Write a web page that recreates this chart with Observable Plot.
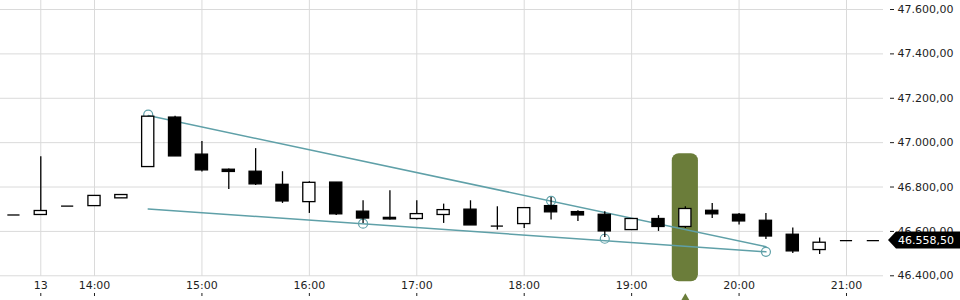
<!DOCTYPE html>
<html><head><meta charset="utf-8">
<script src="https://cdn.jsdelivr.net/npm/d3@7"></script>
<script src="https://cdn.jsdelivr.net/npm/@observablehq/plot@0.6"></script>
<style>body{margin:0;background:#fff;}#chart{width:960px;height:300px;}</style>
</head><body><div id="chart"></div>
<script>
// 15-minute candles
const times  = ["13:15","13:30","13:45","14:00","14:15","14:30","14:45","15:00","15:15","15:30","15:45","16:00","16:15","16:30","16:45","17:00","17:15","17:30","17:45","18:00","18:15","18:30","18:45","19:00","19:15","19:30","19:45","20:00","20:15","20:30","20:45","21:00","21:15"];
const opens  = [46674,46674,46714,46714,46749,46890,47113,46946,46878,46869,46810,46732,46820,46689,46661,46656,46674,46698,46624,46633,46714,46687,46675,46606,46656,46620,46693,46675,46648,46585,46516,46558.5,46558.5];
const highs  = [46674,46937,46714,46760,46764,47118,47119,47005,46881,46973,46869,46824,46820,46738,46783,46738,46723,46738,46711,46705,46753,46693,46689,46656,46671,46711,46726,46681,46681,46615,46570,46558.5,46558.5];
const lows   = [46674,46674,46714,46714,46749,46890,46938,46868,46789,46807,46726,46681,46672,46636,46651,46651,46636,46627,46606,46613,46651,46645,46573,46606,46600,46613,46658,46629,46564,46501,46496,46558.5,46558.5];
const closes = [46674,46692,46714,46760,46764,47117,46938,46875,46868,46812,46735,46819,46677,46658,46654,46678,46696,46627,46624,46705,46686,46672,46600,46656,46620,46701,46677,46645,46577,46510,46549,46558.5,46558.5];

// trend lines and pivot markers
const upperTimes = ["14:30","20:15"], upperValues = [47122,46531];
const lowerTimes = ["14:30","20:15"], lowerValues = [46701,46508];
const pivotTimes = ["14:30","16:30","18:15","18:45","20:15"];
const pivotValues = [47126,46635,46738,46567,46508];

// highlight
const highlightTime = "19:30";
const highlightTop = 46950, highlightBottom = 46373, markerValue = 46299;

// axes
const yTicks = [46400,46600,46800,47000,47200,47400,47600];
const xTickTimes = ["13:30","14:00","15:00","16:00","17:00","18:00","19:00","20:00","21:00"];
const xTickLabels = ["13","14:00","15:00","16:00","17:00","18:00","19:00","20:00","21:00"];
const lastPrice = 46558.5;

const toDate = s => { const [h,m,sec] = s.split(":").map(Number); return new Date(Date.UTC(2024,0,13,h,m,sec||0)); };
const candles = times.map((t,i)=>({t:toDate(t), o:opens[i], h:highs[i], l:lows[i], c:closes[i]}));
const half = 3.4*60000;
const upper = upperTimes.map((t,i)=>({t:toDate(t), v:upperValues[i]}));
const lower = lowerTimes.map((t,i)=>({t:toDate(t), v:lowerValues[i]}));
const pivots = pivotTimes.map((t,i)=>({t:toDate(t), v:pivotValues[i]}));
const xTicks = xTickTimes.map(toDate);
const labelOf = new Map(xTicks.map((d,i)=>[+d, xTickLabels[i]]));
const de = d3.formatLocale({decimal:",", thousands:".", grouping:[3], currency:["",""]});
const fmt = de.format(",.2f");
const hl = [{t:toDate(highlightTime)}];
const hlHalf = 7.3*60000;
const teal = "#5fa0a8", olive = "#6b7d3a", grid = "#dadada";

const up = candles.filter(d=>d.c>d.o), down = candles.filter(d=>d.c<d.o), flat = candles.filter(d=>d.c===d.o);

const chart = Plot.plot({
  width: 960, height: 300,
  marginLeft: 0, marginRight: 77, marginTop: 0, marginBottom: 24,
  style: {fontFamily: "'DejaVu Sans', sans-serif", fontSize: "11px", color: "#1e1e1e", background: "#fff"},
  x: {type: "utc", domain: [toDate("13:07:30"), toDate("21:20:40")], label: null},
  y: {domain: [46396.8, 47640.6], label: null},
  marks: [
    Plot.gridY(yTicks, {stroke: grid, strokeOpacity: 1}),
    Plot.gridX(xTicks, {stroke: grid, strokeOpacity: 1}),
    Plot.rect(hl, {x1: d=>new Date(+d.t-hlHalf), x2: d=>new Date(+d.t+hlHalf), y1: highlightBottom, y2: highlightTop, rx: 7, fill: olive}),
    Plot.line(upper, {x:"t", y:"v", stroke: teal, strokeWidth: 1.5}),
    Plot.line(lower, {x:"t", y:"v", stroke: teal, strokeWidth: 1.5}),
    Plot.dot(pivots, {x:"t", y:"v", r: 4.5, stroke: teal, strokeWidth: 1.2, fill: "none"}),
    Plot.ruleX(candles.filter(d=>d.h>d.l), {x:"t", y1:"l", y2:"h", stroke:"#000", strokeWidth: 1.3}),
    Plot.rect(up, {x1: d=>new Date(+d.t-half), x2: d=>new Date(+d.t+half), y1:"o", y2:"c", fill:"#fff", stroke:"#000", strokeWidth: 1.3}),
    Plot.rect(down, {x1: d=>new Date(+d.t-half), x2: d=>new Date(+d.t+half), y1:"o", y2:"c", fill:"#000", stroke:"#000", strokeWidth: 1.3}),
    Plot.ruleY(flat, {y:"c", x1: d=>new Date(+d.t-half), x2: d=>new Date(+d.t+half), stroke:"#000", strokeWidth: 1.3}),
    Plot.axisY(yTicks, {anchor: "right", tickSize: 4, tickPadding: 4, dx: 6, tickFormat: fmt, label: null}),
    Plot.axisX(xTicks, {anchor: "bottom", tickSize: 3, text: null, dy: 17, label: null}),
    Plot.axisX(xTicks, {anchor: "bottom", tickSize: 0, tickPadding: 5, tickFormat: d=>labelOf.get(+d), label: null}),
    Plot.dot(hl, {x:"t", y: markerValue, symbol: "triangle", r: 3.2, fill: olive})
  ]
});
document.getElementById("chart").appendChild(chart);

// last price tag positioned with Plot's y scale
const ys = chart.scale("y");
const py = ys.apply(lastPrice);
const svg = d3.select(chart);
const g = svg.append("g");
g.append("path").attr("d", `M888,${py} L896,${py-8.5} L960,${py-8.5} L960,${py+8.5} L896,${py+8.5} Z`).attr("fill","#000");
g.append("text").attr("x", 898).attr("y", py).attr("dy","0.36em").attr("fill","#fff")
  .attr("text-anchor","start")
  .style("font-family","'DejaVu Sans', sans-serif").style("font-size","11px").text(fmt(lastPrice));
</script>
</body></html>
